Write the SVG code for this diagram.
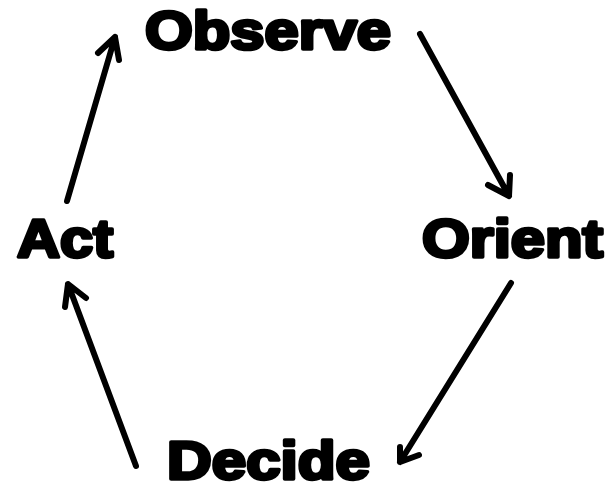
<svg xmlns="http://www.w3.org/2000/svg" width="610" height="489" viewBox="0 0 610 489">
<style>
.lbl{font-family:"Liberation Sans",Arial,sans-serif;font-weight:bold;font-size:54px;fill:#000;stroke:#000;stroke-width:3.5px;stroke-linejoin:round}
.ln{fill:none;stroke:#000;stroke-width:6;stroke-linecap:round;stroke-linejoin:round}
</style>
<rect width="610" height="489" fill="#fff"/>
<g id="observe"><text class="lbl" x="145" y="49" textLength="246" lengthAdjust="spacingAndGlyphs">Observe</text></g>
<g id="orient"><text class="lbl" x="422" y="257" textLength="181" lengthAdjust="spacingAndGlyphs">Orient</text></g>
<g id="decide"><text class="lbl" x="167" y="479" textLength="203" lengthAdjust="spacingAndGlyphs">Decide</text></g>
<g id="act"><text class="lbl" x="17" y="257" textLength="96" lengthAdjust="spacingAndGlyphs">Act</text></g>
<g id="connectors">
<path class="ln" d="M420 34 L509 196 M488 185 L509 196 L510 175"/>
<path class="ln" d="M511 283 L400 462 M400 447 L400 462 L419 455"/>
<path class="ln" d="M136 466 L68 284 M65 307 L68 284 L86 298"/>
<path class="ln" d="M67 201 L115 37 M98 53 L115 37 L119 60"/>
</g>
</svg>
